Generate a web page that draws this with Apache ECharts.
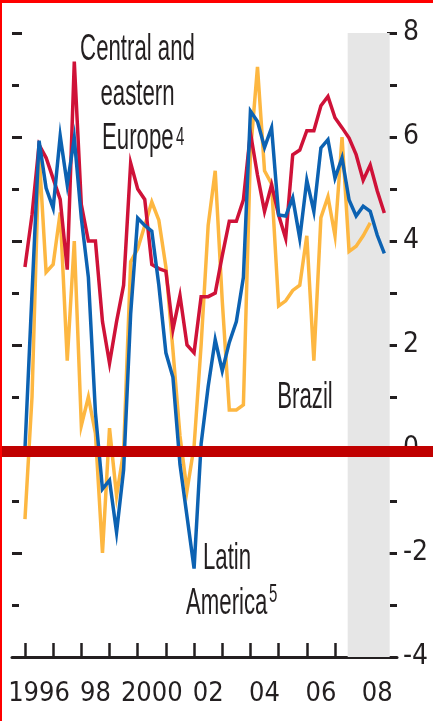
<!DOCTYPE html>
<html>
<head>
<meta charset="utf-8">
<script src="https://cdn.jsdelivr.net/npm/echarts@6/dist/echarts.min.js"></script>
<style>
  html, body { margin: 0; padding: 0; background: #fff; }
  #chart { width: 433px; height: 721px; }
  #frame {
    position: absolute; left: 0; top: 0; width: 433px; height: 721px;
    border-top: 3px solid #f00; border-left: 2px solid #f00;
    box-sizing: border-box; pointer-events: none;
  }
</style>
</head>
<body>
<div id="chart"></div>
<div id="frame"></div>
<script>
// quarterly data, 1996Q1 .. 2008Q4
const startYear = 1996;
const quarterCount = 52;
const quarters = [];
for (let i = 0; i < quarterCount; i++) quarters.push(startYear + i / 4);

const brazil = [
  -1.35, 1.0, 5.7, 3.4, 3.55, 4.55, 1.7, 4.0, 0.45, 1.0,
  0.3, -2.0, 0.4, -0.9, -0.05, 3.6, 3.85, 4.3, 4.75, 4.4,
  3.5, 1.9, 0.25, -0.8, 0.05, 2.0, 4.3, 5.35, 2.85, 0.75,
  0.75, 0.85, 5.7, 7.35, 5.35, 5.1, 2.75, 2.85, 3.05, 3.15,
  4.1, 1.7, 4.45, 4.85, 4.1, 6.0, 3.8, 3.9, 4.1, 4.35,
  null, null
];
const centralEurope = [
  3.5, 4.5, 5.85, 5.6, 5.2, 4.8, 3.45, 7.45, 4.7, 4.0,
  4.0, 2.45, 1.65, 2.45, 3.15, 5.5, 5.0, 4.8, 3.55, 3.47,
  3.42, 2.3, 2.95, 2.0, 1.85, 2.93, 2.93, 3.0, 3.72, 4.38,
  4.38, 4.79, 6.08, 5.27, 4.57, 5.08, 4.5, 4.05, 5.66, 5.75,
  6.12, 6.12, 6.6, 6.78, 6.37, 6.18, 5.98, 5.66, 5.17, 5.46,
  4.96, 4.54
];
const latinAmerica = [
  0.0, 3.0, 5.93, 5.02, 4.63, 6.02, 5.08, 5.98, 4.44, 3.3,
  0.7, -0.77, -0.6, -1.6, -0.4, 2.6, 4.44, 4.3, 4.19, 3.15,
  1.85, 1.38, -0.3, -1.3, -2.3, 0.1, 1.2, 2.1, 1.5, 2.05,
  2.45, 3.3, 6.5, 6.3, 5.8, 6.18, 4.5, 4.48, 4.83, 4.05,
  5.17, 4.57, 5.79, 5.95, 5.21, 5.6, 4.79, 4.48, 4.67, 4.57,
  4.11, 3.76
];

// x axis ticks and labels
const tickYears = [1996, 1997, 1998, 1999, 2000, 2001, 2002, 2003, 2004, 2005, 2006, 2007, 2008];
const labelYears = [1996, 1998, 2000, 2002, 2004, 2006, 2008];
const labelTexts = ['1996', '98', '2000', '02', '04', '06', '08'];

// shaded projection period
const shadeFrom = 2007.45;
const shadeTo = 2008.94;

const ink = '#231f20';
const axisFont = '"Liberation Sans Narrow", "DejaVu Sans Condensed", sans-serif';
const noteFont = '"Liberation Sans", Arial, sans-serif';

const pair = (vals) => quarters.map((q, i) => [q, vals[i]]);

const chart = echarts.init(document.getElementById('chart'), null, { renderer: 'canvas' });

const yTickStyle = {
  type: 'value', min: -4, max: 8, interval: 2,
  axisLine: { show: false },
  axisTick: { show: true, inside: true, length: 10, lineStyle: { color: ink, width: 3 } },
  minorTick: { show: true, splitNumber: 2, length: 7, lineStyle: { color: ink, width: 3 } },
  splitLine: { show: false }
};

chart.setOption({
  animation: false,
  backgroundColor: '#fff',
  grid: { left: 12, right: 36, top: 33, bottom: 64 },
  xAxis: {
    type: 'value',
    min: 1995.54,
    max: 2009.2,
    axisLine: { show: true, onZero: false, lineStyle: { color: ink, width: 3 } },
    axisTick: {
      show: true, inside: true, length: 14,
      customValues: tickYears,
      lineStyle: { color: ink, width: 2.5 }
    },
    axisLabel: {
      customValues: labelYears.map(y => y + 0.5),
      formatter: v => labelTexts[labelYears.indexOf(Math.floor(v))],
      color: ink, fontSize: 27, fontFamily: axisFont, margin: 23
    },
    splitLine: { show: false }
  },
  yAxis: [
    Object.assign({}, yTickStyle, {
      position: 'right',
      axisLabel: { color: ink, fontSize: 28, fontFamily: axisFont, margin: 6, padding: [6, 0, 0, 0] }
    }),
    Object.assign({}, yTickStyle, {
      position: 'left',
      axisLabel: { show: false }
    })
  ],
  series: [
    {
      type: 'line', data: [], z: 1, silent: true,
      markArea: {
        silent: true,
        itemStyle: { color: '#e6e6e6' },
        data: [[{ coord: [shadeFrom, -4] }, { coord: [shadeTo, 8.06] }]]
      }
    },
    {
      name: 'Brazil', type: 'line', data: pair(brazil), z: 2,
      showSymbol: false, symbol: 'none',
      lineStyle: { color: '#fdb741', width: 3.5, join: 'miter' }
    },
    {
      name: 'Central and eastern Europe', type: 'line', data: pair(centralEurope), z: 3,
      showSymbol: false, symbol: 'none',
      lineStyle: { color: '#cf1238', width: 3.5, join: 'miter' }
    },
    {
      name: 'Latin America', type: 'line', data: pair(latinAmerica), z: 4,
      showSymbol: false, symbol: 'none',
      lineStyle: { color: '#0c62b2', width: 3.5, join: 'miter' }
    }
  ]
});

// annotations, condensed with a horizontal scale
function note(text, x, y, size, align) {
  return {
    type: 'text', x: x, y: y, scaleX: 0.6, z: 20,
    style: {
      text: text, fill: ink, fontSize: size, fontFamily: noteFont,
      textAlign: align || 'left', textVerticalAlign: 'middle'
    }
  };
}

const y0 = chart.convertToPixel({ yAxisIndex: 0 }, 0);

chart.setOption({
  graphic: [
    note('Central and', 137.5, 50, 37, 'center'),
    note('eastern', 137.5, 95, 37, 'center'),
    note('Europe', 102, 139, 37),
    note('4', 176, 138, 25),
    note('Brazil', 305, 398, 37, 'center'),
    note('Latin', 203, 559, 37),
    note('America', 186, 604, 37),
    note('5', 269, 595, 25),
    {
      type: 'rect', z: 30,
      shape: { x: 0, y: y0 - 3, width: 433, height: 11 },
      style: { fill: '#c00000' }
    }
  ]
});
</script>
</body>
</html>
